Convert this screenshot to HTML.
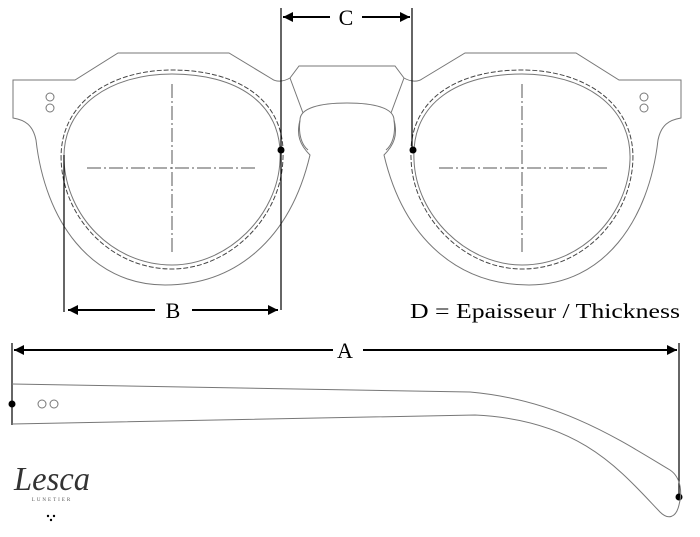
<!DOCTYPE html>
<html><head><style>body{margin:0;background:#fff}svg{display:block}</style></head><body>
<svg width="700" height="537" viewBox="0 0 700 537" xmlns="http://www.w3.org/2000/svg" font-family="Liberation Serif, serif">
<defs><marker id="ah" viewBox="0 0 10 10" refX="10" refY="5" markerWidth="5" markerHeight="5" orient="auto-start-reverse"><path d="M0,0L10,5L0,10z" fill="#000"/></marker></defs>
<g id="lf" fill="none" stroke="#777" stroke-width="1">
<path d="M290,78 C283,82 276,82 272,79 L229,53 L118,53 L75,80 L13,80 L13,118 C25,120 33,125 36,140 C45,220 90,285 165,285 C235,285 290,240 310,155 C300,145 296,135 300,120"/>
<path d="M64,160 C62,105 112,74 172,74 C235,74 283,102 280,160 C278,215 228,265 172,265 C112,265 66,215 64,160Z"/>
<path d="M60,160 C58,102 110,69 172,69 C238,69 288,99 284,160 C282,218 230,270 172,270 C110,270 62,218 60,160Z" stroke-dasharray="5,2" stroke="#444" transform="translate(172,169) scale(0.99) translate(-172,-169)"/>
<circle cx="50" cy="97" r="4"/><circle cx="50" cy="108" r="4"/>
<path d="M87,168H258M172,84V255" stroke="#555" stroke-dasharray="14,3,2,3"/>
</g>
<use href="#lf" transform="translate(694,0) scale(-1,1)"/>
<g fill="none" stroke="#777">
<path d="M290,78 L299,66 L395,66 L404,78"/>
<path d="M290,78 L303,113 M404,78 L391,113"/>
<path d="M300,120 C300,108 320,103 347,103 C374,103 394,108 394,120 C396,135 392,145 386,150 M300,120 C298,135 302,145 308,150"/>
</g>
<g stroke="#000" stroke-width="1.2" fill="none">
<path d="M281,8V310M412,8V150M64,155V312M12,343V425M679,343V500"/>
<path d="M330,17H283" marker-end="url(#ah)" stroke-width="2"/>
<path d="M362,17H410" marker-end="url(#ah)" stroke-width="2"/>
<path d="M155,310H68" marker-end="url(#ah)" stroke-width="2"/>
<path d="M192,310H278" marker-end="url(#ah)" stroke-width="2"/>
<path d="M333,350H14" marker-end="url(#ah)" stroke-width="2"/>
<path d="M363,350H677" marker-end="url(#ah)" stroke-width="2"/>
</g>
<g fill="#000"><circle cx="281" cy="150" r="3.5"/><circle cx="413" cy="150" r="3.5"/><circle cx="12" cy="404" r="3.5"/><circle cx="679" cy="497" r="3.5"/></g>
<g fill="none" stroke="#777">
<path d="M12,384 L470,392 C560,400 620,440 670,470 C682,478 682,495 679,505 C676,518 668,520 660,512 C620,470 580,420 475,415 L12,424"/>
<circle cx="42" cy="404" r="4"/><circle cx="54" cy="404" r="4"/>
</g>
<g font-size="22" text-anchor="middle" fill="#000">
<text x="346" y="25">C</text><text x="173" y="318">B</text><text x="345" y="358">A</text>
</g>
<text x="410" y="318" font-size="21" textLength="270" lengthAdjust="spacingAndGlyphs">D = Epaisseur / Thickness</text>
<text x="14" y="490" font-size="34" font-style="italic" fill="#333" textLength="76" lengthAdjust="spacingAndGlyphs">Lesca</text>
<text x="52" y="501" font-size="5" letter-spacing="2" text-anchor="middle" fill="#555">LUNETIER</text>
<g fill="#000"><circle cx="48" cy="516" r="1.2"/><circle cx="54" cy="516" r="1.2"/><circle cx="51" cy="520" r="1.2"/></g>
</svg>
</body></html>
